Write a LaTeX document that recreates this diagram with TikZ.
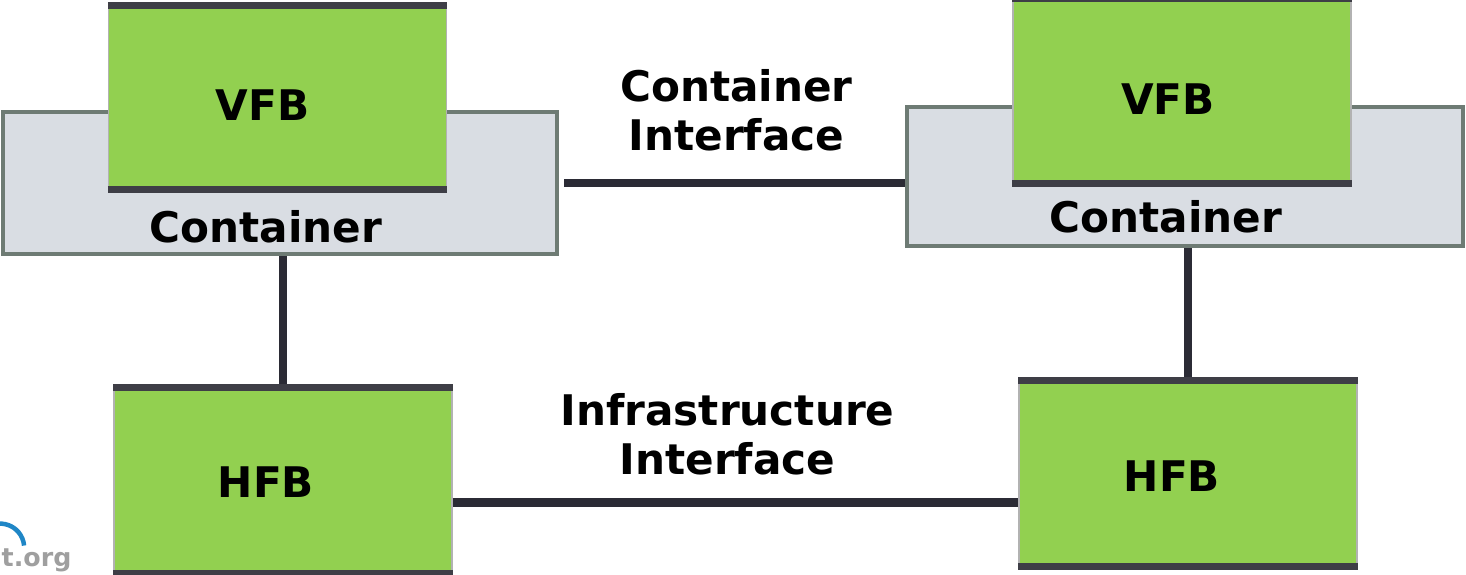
\documentclass[tikz,border=0pt]{standalone}
\usepackage{fontspec}
\setmainfont{DejaVu Sans}
\usetikzlibrary{positioning, calc}

\definecolor{fbgreen}{HTML}{92D050}
\definecolor{contgray}{HTML}{D9DDE3}
\definecolor{contedge}{HTML}{6E7B74}
\definecolor{bardark}{HTML}{3E3E46}
\definecolor{linkdark}{HTML}{2B2B35}
\definecolor{wmblue}{HTML}{1F86C6}

\begin{document}
\begin{tikzpicture}[
            fb/.style={rectangle, fill=fbgreen, draw=gray!60, line width=0.3pt, minimum width=3.38cm, minimum height=1.9cm, inner sep=0pt},
            cont/.style={rectangle, fill=contgray, draw=contedge, line width=1.3pt, inner sep=0pt},
            bar/.style={draw=bardark, line width=0.07cm},
            link/.style={draw=linkdark, line width=2.5pt},
            txt/.style={inner sep=0pt, font=\fontsize{12}{13.7}\selectfont\bfseries},
            lbl/.style={txt, align=center}
        ]
        \useasboundingbox (0,0) rectangle (14.66,-5.75);

        % containers
        \node[cont, minimum width=5.54cm, minimum height=1.42cm] (lcont) at (2.80,-1.83) {};
        \node[cont, minimum width=5.56cm, minimum height=1.39cm] (rcont) at (11.85,-1.765) {};

        % function blocks
        \node[fb, label={[txt, xshift=-1.5mm, yshift=-0.8mm]center:VFB}] (lvfb) at (2.775,-0.975) {};
        \node[fb, label={[txt, xshift=-1.4mm, yshift=-0.8mm]center:VFB}] (rvfb) at (11.82,-0.91) {};
        \node[fb, minimum height=1.91cm, label={[txt, xshift=-1.7mm, yshift=-0.2mm]center:HFB}] (lhfb) at (2.83,-4.805) {};
        \node[fb, minimum height=1.91cm, label={[txt, xshift=-1.6mm, yshift=-0.3mm]center:HFB}] (rhfb) at (11.88,-4.735) {};

        \foreach \b in {lvfb,rvfb,lhfb,rhfb} {
            \draw[bar] ([yshift=-0.035cm]\b.north west) -- ([yshift=-0.035cm]\b.north east);
            \draw[bar] ([yshift=0.035cm]\b.south west) -- ([yshift=0.035cm]\b.south east);
        }

        \node[txt] (ltxt) at ($(lcont)+(-0.14,-0.435)$) {Container};
        \node[txt] (rtxt) at ($(rcont)+(-0.19,-0.405)$) {Container};

        % interfaces
        \draw[link] ([xshift=0.05cm]lcont.east) -- (lcont.east -| rcont.west)
            node[midway, lbl, anchor=south, xshift=0.02cm, yshift=0.28cm] (cif) {Container\\Interface};
        \draw[link] (lhfb.north) -- (lhfb.north |- lcont.south);
        \draw[link] (rhfb.north) -- (rhfb.north |- rcont.south);
        \draw[link] ([yshift=-0.22cm]lhfb.east) -- ([yshift=-0.22cm]lhfb.east -| rhfb.west)
            node[midway, lbl, anchor=south, xshift=-0.08cm, yshift=0.235cm] (iif) {Infrastructure\\Interface};

        % watermark
        \node[inner sep=0pt, anchor=south west, text=gray!75, font=\fontsize{7.2}{8}\selectfont\bfseries] (wm) at (0.01,-5.73) {t.org};
        \draw[wmblue, line width=0.045cm] (-0.04,-5.24) arc[start angle=100, end angle=5, radius=0.24];
    \end{tikzpicture}
\end{document}
